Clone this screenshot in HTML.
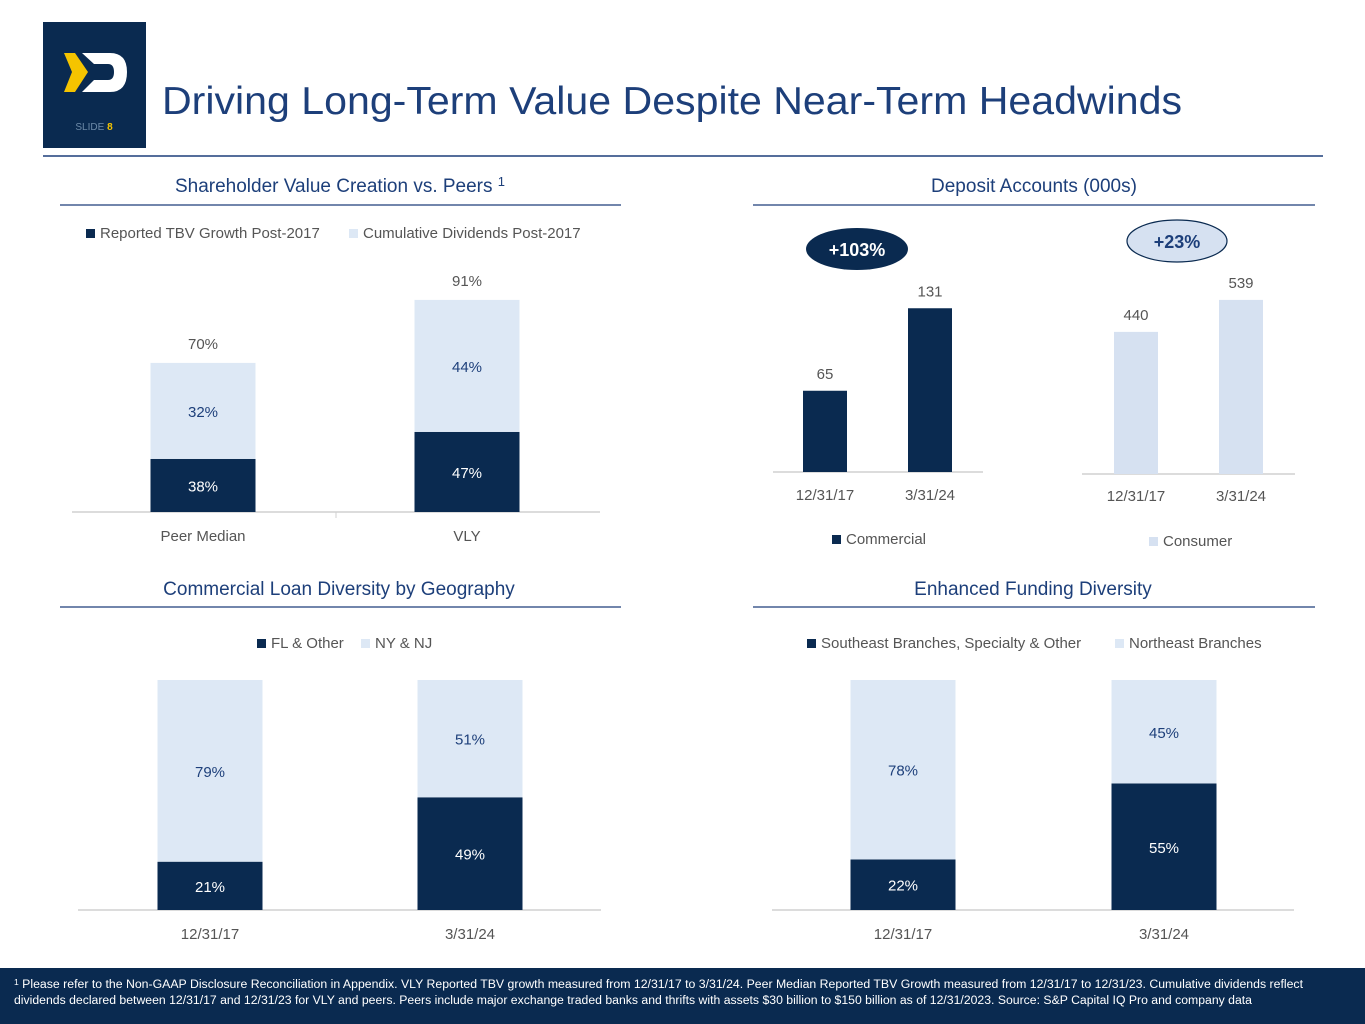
<!DOCTYPE html>
<html><head><meta charset="utf-8"><style>
body{margin:0;width:1365px;height:1024px;background:#fff;position:relative;overflow:hidden;font-family:"Liberation Sans",sans-serif}
svg text{font-family:"Liberation Sans",sans-serif}
</style></head><body>
<svg id="s" width="1365" height="1024" style="position:absolute;left:0;top:0">
<rect x="43" y="22" width="103" height="126" fill="#0a2a50"/>
<polygon points="64,53 75,53 88,72 75,92 64,92 72,72" fill="#f5c400"/>
<path d="M82,53 L110,53 Q127,53 127,72 Q127,92 110,92 L82,92 L94,80 L108,80 Q114,80 114,72 Q114,64 108,64 L94,64 Z" fill="#fff"/>
<text x="94" y="130" font-size="10" fill="#6d8aa8" text-anchor="middle">SLIDE <tspan fill="#f5c400" font-weight="bold">8</tspan></text>
<text x="162" y="114" font-size="39" fill="#1d3f7a" textLength="1020" lengthAdjust="spacingAndGlyphs">Driving Long-Term Value Despite Near-Term Headwinds</text>
<line x1="43" y1="156" x2="1323" y2="156" stroke="#1d3f7a" stroke-width="1.5"/>
<g font-size="19" fill="#1d3f7a" text-anchor="middle">
<text x="340" y="192">Shareholder Value Creation vs. Peers <tspan font-size="13" dy="-6">1</tspan></text>
<text x="1034" y="192">Deposit Accounts (000s)</text>
<text x="339" y="595">Commercial Loan Diversity by Geography</text>
<text x="1033" y="595">Enhanced Funding Diversity</text>
</g>
<g stroke="#1d3f7a" stroke-width="1.2">
<line x1="60" y1="205" x2="621" y2="205"/><line x1="753" y1="205" x2="1315" y2="205"/>
<line x1="60" y1="607" x2="621" y2="607"/><line x1="753" y1="607" x2="1315" y2="607"/>
</g>
<ellipse cx="857" cy="249" rx="51" ry="21" fill="#0a2a50"/>
<text x="857" y="256" font-size="18" font-weight="bold" fill="#fff" text-anchor="middle">+103%</text>
<ellipse cx="1177" cy="241" rx="50" ry="21" fill="#d6e1f1" stroke="#0a2a50" stroke-width="1.2"/>
<text x="1177" y="248" font-size="18" font-weight="bold" fill="#1d3f7a" text-anchor="middle">+23%</text>
<g id="charts"></g>
<rect x="0" y="968" width="1365" height="56" fill="#0a2a50"/>
<text x="14" y="988" font-size="11.5" fill="#fff" textLength="1289" lengthAdjust="spacingAndGlyphs"><tspan font-size="8" dy="-3">1</tspan><tspan dy="3"> Please refer to the Non-GAAP Disclosure Reconciliation in Appendix. VLY Reported TBV growth measured from 12/31/17 to 3/31/24.  Peer Median Reported TBV Growth measured from 12/31/17 to 12/31/23.  Cumulative dividends reflect</tspan></text>
<text x="14" y="1004" font-size="11.5" fill="#fff" textLength="1238" lengthAdjust="spacingAndGlyphs">dividends declared between 12/31/17 and 12/31/23 for VLY and peers.  Peers include major exchange traded banks and thrifts with assets $30 billion to $150 billion as of 12/31/2023.  Source: S&amp;P Capital IQ Pro and company data</text>
</svg>
<script>
const c1Cats=["Peer Median","VLY"], c1Tbv=[38,47], c1Div=[32,44], c1Tot=["70%","91%"];
const c2Cats=["12/31/17","3/31/24"], c2Comm=[65,131], c2Cons=[440,539];
const c3Cats=["12/31/17","3/31/24"], c3Fl=[21,49], c3Ny=[79,51];
const c4Cats=["12/31/17","3/31/24"], c4Se=[22,55], c4Ne=[78,45];
const DARK="#0a2a50", LIGHT="#dde8f5", LIGHT2="#d6e1f1";
const NS="http://www.w3.org/2000/svg", G=document.getElementById('charts');
function el(t,a,txt){const e=document.createElementNS(NS,t);for(const k in a)e.setAttribute(k,a[k]);if(txt!=null)e.textContent=txt;G.appendChild(e);return e;}
function txt(x,y,s,fill,size){const e=el('text',{x:x,y:y,'font-size':size||15,fill:fill,'text-anchor':'middle'},s);return e;}
function axis(x1,x2,y){const e=el('line',{x1:x1,x2:x2,y1:y,y2:y,stroke:'#d0d0d0','stroke-width':1.5});}
function bar(x,w,base,v0,v1,scale,fill,min){min=min||0;const y=base-(v1-min)*scale,y0=base-Math.max(v0-min,0)*scale;const r=el('rect',{x:x-w/2,y:y,width:w,height:y0-y,fill:fill});return y;}
function legend(x,y,fill,label){const r=el('rect',{x:x,y:y-9,width:9,height:9,fill:fill});const t=el('text',{x:x+14,y:y,'font-size':15,fill:'#555'},label);}
function stacked(cats,a,b,xs,base,scale,axX,totals,min){
  axis(axX[0],axX[1],base);
  cats.forEach((c,i)=>{
    const yA=bar(xs[i],105,base,0,a[i],scale,DARK,min);
    const yB=bar(xs[i],105,base,a[i],a[i]+b[i],scale,LIGHT,min);
    txt(xs[i],(base+yA)/2+6,a[i]+"%","#fff");
    txt(xs[i],(yA+yB)/2+6,b[i]+"%","#1d3f7a");
    if(totals)txt(xs[i],yB-14,totals[i],"#555");
    txt(xs[i],base+29,c,"#555");
  });
}
// chart 1 (value axis starts near 20%)
stacked(c1Cats,c1Tbv,c1Div,[203,467],512,3.0,[72,600],c1Tot,20.3);
el('line',{x1:336,x2:336,y1:512,y2:518,stroke:'#d0d0d0'});
legend(86,238,DARK,"Reported TBV Growth Post-2017");legend(349,238,LIGHT,"Cumulative Dividends Post-2017");
// chart 2
axis(773,983,472);
c2Cats.forEach((c,i)=>{const x=[825,930][i];const y=bar(x,44,472,0,c2Comm[i],1.25,DARK);txt(x,y-12,String(c2Comm[i]),"#555");txt(x,500,c,"#555");});
legend(832,544,DARK,"Commercial");
axis(1082,1295,474);
c2Cats.forEach((c,i)=>{const x=[1136,1241][i];const y=bar(x,44,474,0,c2Cons[i],0.323,LIGHT2);txt(x,y-12,String(c2Cons[i]),"#555");txt(x,501,c,"#555");});
legend(1149,546,LIGHT2,"Consumer");
// chart 3
stacked(c3Cats,c3Fl,c3Ny,[210,470],910,2.3,[78,601]);
legend(257,648,DARK,"FL & Other");legend(361,648,LIGHT,"NY & NJ");
// chart 4
stacked(c4Cats,c4Se,c4Ne,[903,1164],910,2.3,[772,1294]);
legend(807,648,DARK,"Southeast Branches, Specialty & Other");legend(1115,648,LIGHT,"Northeast Branches");
</script>
</body></html>
